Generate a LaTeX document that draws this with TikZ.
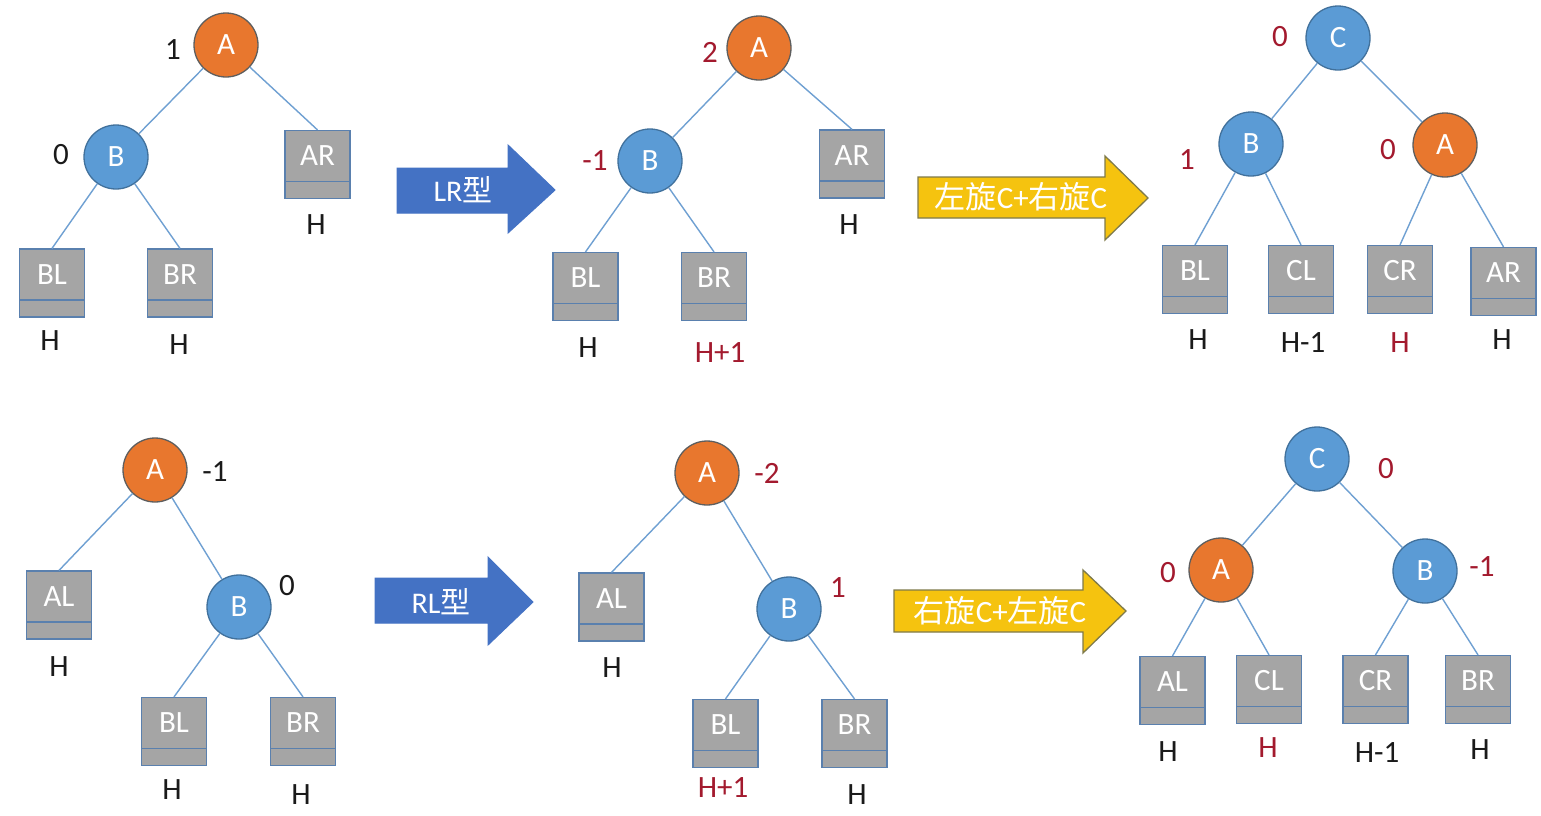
\documentclass[tikz,border=0pt]{standalone}
\usepackage{fontspec}
\setmainfont{Carlito}
\newfontfamily\cjk{Noto Sans CJK SC}
\definecolor{orangeA}{HTML}{E8772E}
\definecolor{orangeLine}{HTML}{5E5E5E}
\definecolor{blueN}{HTML}{5B9BD5}
\definecolor{blueLine}{HTML}{41719C}
\definecolor{boxgrey}{HTML}{A5A5A5}
\definecolor{boxline}{HTML}{5A80AE}
\definecolor{edgeblue}{HTML}{6FA0D2}
\definecolor{redT}{HTML}{A31A2E}
\definecolor{darkT}{HTML}{1A1A1A}
\definecolor{arrowBlue}{HTML}{4472C4}
\definecolor{arrowYellow}{HTML}{F5C30F}
\definecolor{yellowLine}{HTML}{7F7A4A}
\begin{document}
\begin{tikzpicture}[x=1pt,y=-1pt,
  circ/.style={circle, minimum size=64pt, inner sep=0pt, line width=1.3pt, text=white, font=\fontsize{31}{36}\selectfont},
  orangenode/.style={circ, fill=orangeA, draw=orangeLine},
  bluenode/.style={circ, fill=blueN, draw=blueLine},
  boxtxt/.style={text=white, inner sep=0pt, font=\fontsize{31}{36}\selectfont},
  box/.style={rectangle, draw=boxline, fill=boxgrey, line width=1.2pt, minimum width=65pt, minimum height=68pt, inner sep=0pt,
    path picture={\draw[boxline, line width=1.4pt] ([yshift=17pt]path picture bounding box.south west) -- ([yshift=17pt]path picture bounding box.south east);},
    label={[boxtxt, yshift=8.5pt]center:#1}},
  edge/.style={draw=edgeblue, line width=1.4pt},
  num/.style={inner sep=0pt, text=darkT, font=\fontsize{31}{36}\selectfont},
  rnum/.style={num, text=redT},
  hlab/.style={inner sep=0pt, text=darkT, font=\fontsize{31}{36}\selectfont},
  rhlab/.style={hlab, text=redT},
  bluearrow/.style={fill=arrowBlue, draw=arrowBlue, line width=1pt},
  yellowarrow/.style={fill=arrowYellow, draw=yellowLine, line width=1.3pt},
  arrowtxt/.style={inner sep=0pt, text=white, font=\fontsize{30}{36}\selectfont},
  yarrowtxt/.style={inner sep=0pt, text=white, font=\fontsize{31}{36}\selectfont}
]
\useasboundingbox (0,0) rectangle (1541,815);
\fill[white] (0,0) rectangle (1541,815);

% ---------- Panel 1 (top left) ----------
\node[orangenode] (p1A) at (226,45) {A};
\node[bluenode] (p1B) at (116,157) {B};
\node[box=AR] (p1AR) at (317.5,164.5) {};
\node[box=BL] (p1BL) at (52,283) {};
\node[box=BR] (p1BR) at (180,283) {};
\draw[edge] (p1A) -- (p1B);
\draw[edge] (p1A) -- (p1AR.north);
\draw[edge] (p1B) -- (p1BL.north);
\draw[edge] (p1B) -- (p1BR.north);
\node[num] (p1n1) at (173,50) {1};
\node[num] (p1n2) at (61,155) {0};
\node[hlab] (p1h1) at (50,341) {H};
\node[hlab] (p1h2) at (179,345) {H};
\node[hlab] (p1h3) at (316,225) {H};

% arrow LR
\draw[bluearrow] (397,168) -- (508,168) -- (508,145) -- (555,190) -- (508,233) -- (508,213) -- (397,213) -- cycle;
\node[arrowtxt] (t1) at (463,190) {LR{\cjk 型}};

% ---------- Panel 2 (top middle) ----------
\node[orangenode] (p2A) at (759,48) {A};
\node[bluenode] (p2B) at (650,161) {B};
\node[box=AR] (p2AR) at (852,164) {};
\node[box=BL] (p2BL) at (585.5,286.5) {};
\node[box=BR] (p2BR) at (714,286.5) {};
\draw[edge] (p2A) -- (p2B);
\draw[edge] (p2A) -- (p2AR.north);
\draw[edge] (p2B) -- (p2BL.north);
\draw[edge] (p2B) -- (p2BR.north);
\node[rnum] (p2n1) at (710,52) {2};
\node[rnum] (p2n2) at (595,161) {-1};
\node[hlab] (p2h1) at (588,348) {H};
\node[rhlab] (p2h2) at (720,353) {H+1};
\node[hlab] (p2h3) at (849,225) {H};

% arrow yellow 1
\draw[yellowarrow] (918,177) -- (1105,177) -- (1105,156) -- (1148,198) -- (1105,240) -- (1105,218) -- (918,218) -- cycle;
\node[yarrowtxt] (t2) at (1021,197) {{\cjk 左旋}C+{\cjk 右旋}C};

% ---------- Panel 3 (top right) ----------
\node[bluenode] (p3C) at (1338,38) {C};
\node[bluenode] (p3B) at (1251,144) {B};
\node[orangenode] (p3A) at (1445,145) {A};
\node[box=BL] (p3BL) at (1195,279.5) {};
\node[box=CL] (p3CL) at (1301,279.5) {};
\node[box=CR] (p3CR) at (1400,279.5) {};
\node[box=AR] (p3AR) at (1503.5,281.5) {};
\draw[edge] (p3C) -- (p3B);
\draw[edge] (p3C) -- (p3A);
\draw[edge] (p3B) -- (p3BL.north);
\draw[edge] (p3B) -- (p3CL.north);
\draw[edge] (p3A) -- (p3CR.north);
\draw[edge] (p3A) -- (p3AR.north);
\node[rnum] (p3n1) at (1280,37) {0};
\node[rnum] (p3n2) at (1187,160) {1};
\node[rnum] (p3n3) at (1388,150) {0};
\node[hlab] (p3h1) at (1198,340) {H};
\node[hlab] (p3h2) at (1303,343) {H-1};
\node[rhlab] (p3h3) at (1400,343) {H};
\node[hlab] (p3h4) at (1502,340) {H};

% ---------- Panel 4 (bottom left) ----------
\node[orangenode] (p4A) at (155,470) {A};
\node[bluenode] (p4B) at (239,607) {B};
\node[box=AL] (p4AL) at (59,605) {};
\node[box=BL] (p4BL) at (174,731.5) {};
\node[box=BR] (p4BR) at (303,731.5) {};
\draw[edge] (p4A) -- (p4AL.north);
\draw[edge] (p4A) -- (p4B);
\draw[edge] (p4B) -- (p4BL.north);
\draw[edge] (p4B) -- (p4BR.north);
\node[num] (p4n1) at (215,472) {-1};
\node[num] (p4n2) at (287,586) {0};
\node[hlab] (p4h1) at (59,667) {H};
\node[hlab] (p4h2) at (172,790) {H};
\node[hlab] (p4h3) at (301,795) {H};

% arrow RL
\draw[bluearrow] (375,578) -- (488,578) -- (488,557) -- (533,602) -- (488,645) -- (488,623) -- (375,623) -- cycle;
\node[arrowtxt] (t3) at (441,602) {RL{\cjk 型}};

% ---------- Panel 5 (bottom middle) ----------
\node[orangenode] (p5A) at (707,473) {A};
\node[bluenode] (p5B) at (789,609) {B};
\node[box=AL] (p5AL) at (611.5,607) {};
\node[box=BL] (p5BL) at (725.5,733.5) {};
\node[box=BR] (p5BR) at (854.5,733.5) {};
\draw[edge] (p5A) -- (p5AL.north);
\draw[edge] (p5A) -- (p5B);
\draw[edge] (p5B) -- (p5BL.north);
\draw[edge] (p5B) -- (p5BR.north);
\node[rnum] (p5n1) at (767,473) {-2};
\node[rnum] (p5n2) at (838,588) {1};
\node[hlab] (p5h1) at (612,668) {H};
\node[rhlab] (p5h2) at (723,788) {H+1};
\node[hlab] (p5h3) at (857,795) {H};

% arrow yellow 2
\draw[yellowarrow] (894,590) -- (1083,590) -- (1083,570) -- (1126,611) -- (1083,653) -- (1083,632) -- (894,632) -- cycle;
\node[yarrowtxt] (t4) at (1000,611) {{\cjk 右旋}C+{\cjk 左旋}C};

% ---------- Panel 6 (bottom right) ----------
\node[bluenode] (p6C) at (1317,459) {C};
\node[orangenode] (p6A) at (1221,570) {A};
\node[bluenode] (p6B) at (1425,571) {B};
\node[box=AL] (p6AL) at (1172.5,690.5) {};
\node[box=CL] (p6CL) at (1269,689.5) {};
\node[box=CR] (p6CR) at (1375.5,689.5) {};
\node[box=BR] (p6BR) at (1478,689.5) {};
\draw[edge] (p6C) -- (p6A);
\draw[edge] (p6C) -- (p6B);
\draw[edge] (p6A) -- (p6AL.north);
\draw[edge] (p6A) -- (p6CL.north);
\draw[edge] (p6B) -- (p6CR.north);
\draw[edge] (p6B) -- (p6BR.north);
\node[rnum] (p6n1) at (1386,469) {0};
\node[rnum] (p6n2) at (1168,573) {0};
\node[rnum] (p6n3) at (1482,567) {-1};
\node[hlab] (p6h1) at (1168,752) {H};
\node[rhlab] (p6h2) at (1268,748) {H};
\node[hlab] (p6h3) at (1377,753) {H-1};
\node[hlab] (p6h4) at (1480,750) {H};
\end{tikzpicture}
\end{document}
